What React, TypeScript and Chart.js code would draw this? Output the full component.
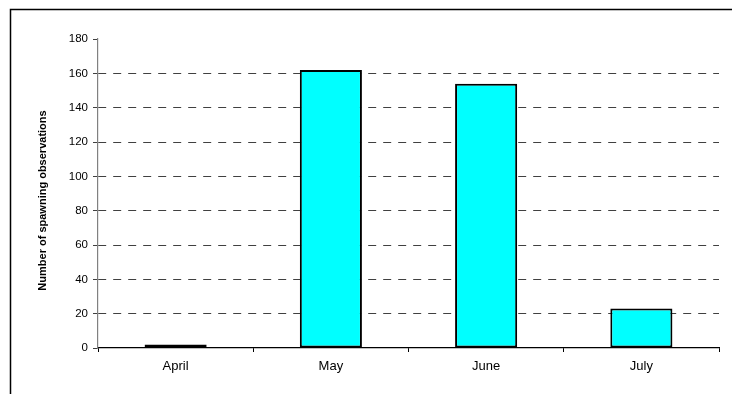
import React, { useEffect, useRef } from "react";
import { Chart, registerables } from "chart.js";

Chart.register(...registerables);

const months = ["April", "May", "June", "July"];
const spawningCounts = [2, 162, 154, 23];
const yMax = 180;
const yStep = 20;
const yTitle = "Number of spawning observations";

// Top and left edge of the chart frame, plus the rotated y-axis title
const framePlugin = {
  id: "frame",
  afterDraw(chart: any) {
    const { ctx, chartArea } = chart;
    ctx.save();
    ctx.strokeStyle = "#000000";
    ctx.lineWidth = 1.5;
    ctx.beginPath();
    ctx.moveTo(10.5, chart.height);
    ctx.lineTo(10.5, 9.5);
    ctx.lineTo(chart.width, 9.5);
    ctx.stroke();

    ctx.translate(43, (chartArea.top + chartArea.bottom) / 2 + 7);
    ctx.rotate(-Math.PI / 2);
    ctx.fillStyle = "#000000";
    ctx.font = "bold 11px 'Liberation Sans', Arial, sans-serif";
    ctx.textAlign = "center";
    ctx.textBaseline = "middle";
    ctx.fillText(yTitle, 0, 0);
    ctx.restore();
  },
};

export default function App() {
  const canvasRef = useRef<HTMLCanvasElement | null>(null);

  useEffect(() => {
    if (!canvasRef.current) return;
    const chart = new Chart(canvasRef.current, {
      type: "bar",
      data: {
        labels: months,
        datasets: [
          {
            data: spawningCounts,
            backgroundColor: "#00FFFF",
            borderColor: "#000000",
            borderWidth: 2,
            borderSkipped: false,
            categoryPercentage: 1,
            barPercentage: 0.4,
          },
        ],
      },
      options: {
        animation: false,
        responsive: false,
        maintainAspectRatio: false,
        layout: { padding: { top: 39, right: 13, left: 0, bottom: 0 } },
        plugins: {
          legend: { display: false },
          tooltip: { enabled: false },
        },
        scales: {
          x: {
            offset: true,
            grid: {
              offset: true,
              drawOnChartArea: false,
              drawTicks: true,
              tickLength: 4,
              color: "#000000",
            },
            border: { color: "#000000", width: 1.2 },
            ticks: {
              color: "#000000",
              padding: 7,
              font: { family: "Liberation Sans, Arial, sans-serif", size: 13 },
            },
            afterFit(scale: any) {
              scale.height = 46;
            },
          },
          y: {
            min: 0,
            max: yMax,
            ticks: {
              stepSize: yStep,
              color: "#000000",
              padding: 5,
              font: { family: "Liberation Sans, Arial, sans-serif", size: 11.5 },
            },
            grid: {
              color: (c: any) =>
                c.tick && (c.tick.value === 0 || c.tick.value === yMax)
                  ? "rgba(0,0,0,0)"
                  : "#404040",
              tickColor: "#404040",
              tickLength: 5,
              lineWidth: 1,
            },
            border: { color: "#808080", width: 1.2, dash: [8, 7] },
            afterFit(scale: any) {
              scale.width = 98;
            },
          },
        },
      },
      plugins: [framePlugin],
    });
    return () => chart.destroy();
  }, []);

  return (
    <div style={{ position: "fixed", left: 0, top: 0, width: 732, height: 394, background: "#ffffff" }}>
      <canvas ref={canvasRef} width={732} height={394} style={{ display: "block" }} />
    </div>
  );
}
